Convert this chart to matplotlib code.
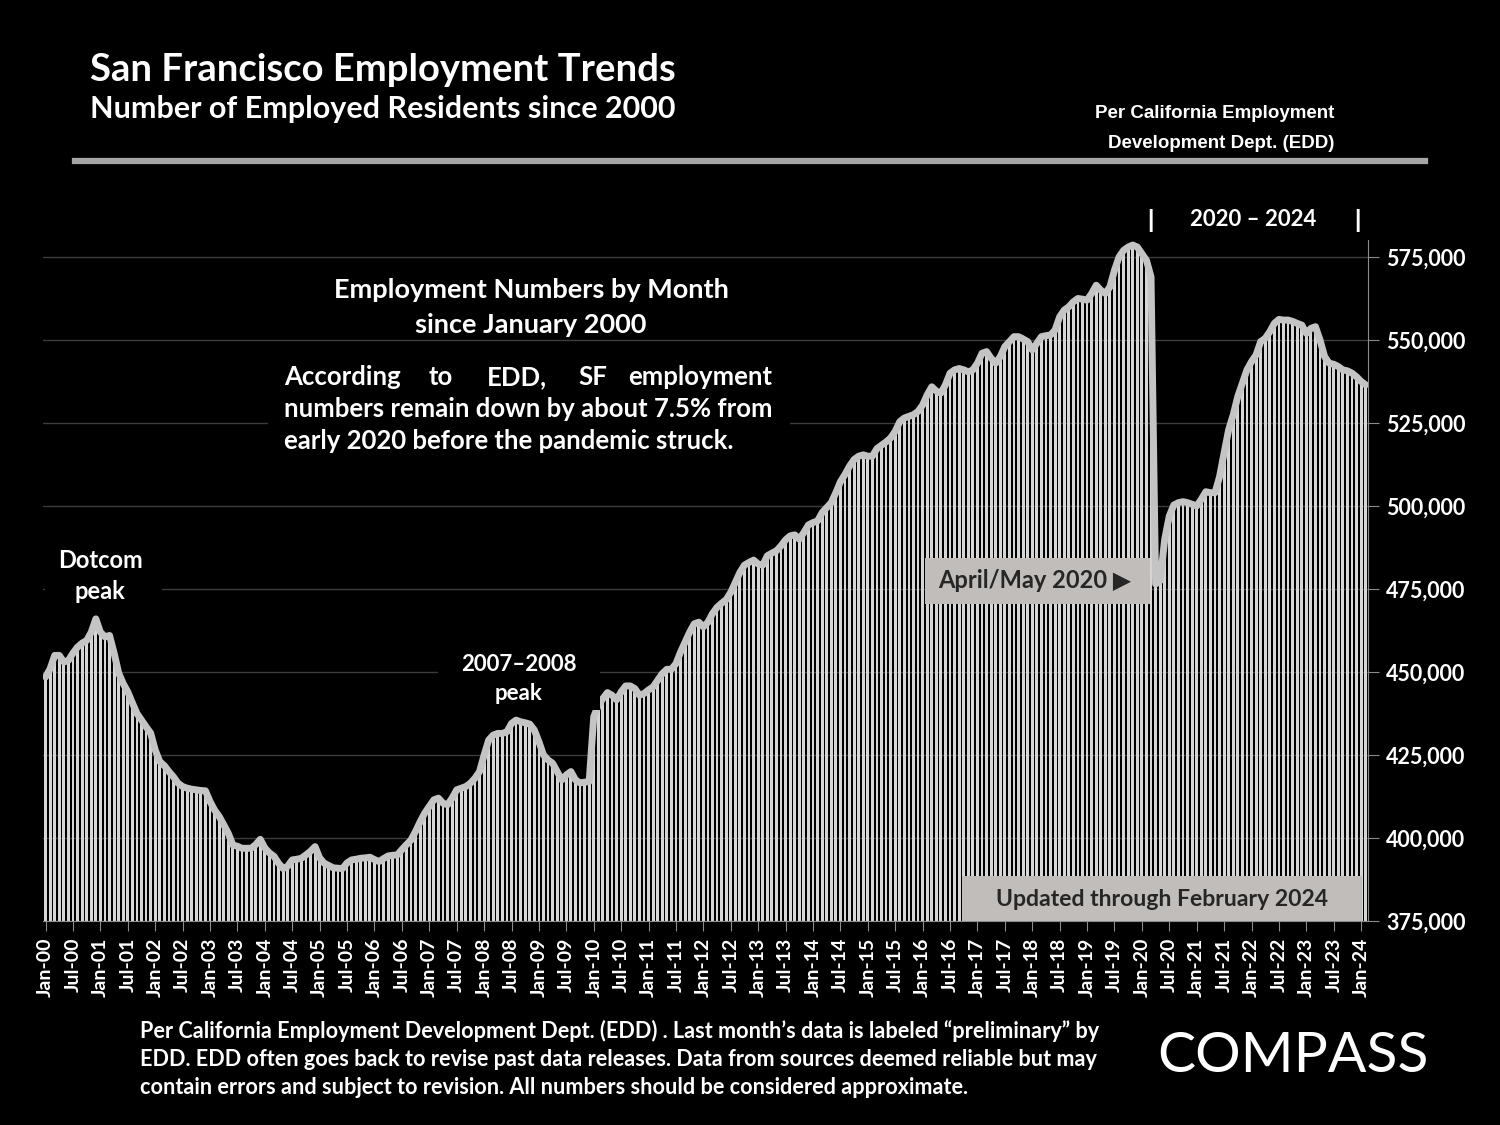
import matplotlib.pyplot as plt
from matplotlib.patches import Rectangle
from matplotlib.lines import Line2D
import numpy as np

plt.rcParams['font.family'] = ['Lato', 'DejaVu Sans']

# employed residents (thousands), Jan-2000 .. Feb-2024
emp_2000 = [448.5, 451.0, 455.0, 455.0, 453.0, 453.5, 455.7, 457.5, 458.7, 459.5, 462.0, 466.0]
emp_2001 = [462.0, 460.6, 461.0, 455.7, 449.7, 446.5, 444.0, 440.7, 437.5, 435.5, 433.5, 431.6]
emp_2002 = [426.5, 423.0, 421.8, 420.0, 418.4, 416.5, 415.5, 415.0, 414.7, 414.5, 414.3, 414.2]
emp_2003 = [411.0, 408.4, 406.5, 404.0, 401.4, 397.9, 397.5, 396.9, 396.9, 396.9, 398.0, 399.6]
emp_2004 = [397.0, 395.5, 394.5, 392.4, 390.8, 391.5, 393.4, 393.6, 393.9, 394.9, 396.0, 397.4]
emp_2005 = [394.0, 392.4, 391.7, 391.0, 390.9, 390.8, 392.5, 393.4, 393.6, 393.9, 394.0, 394.2]
emp_2006 = [393.5, 392.9, 393.8, 394.6, 394.8, 394.9, 396.5, 398.0, 399.4, 402.0, 404.9, 407.5]
emp_2007 = [409.5, 411.5, 412.0, 410.5, 410.0, 412.0, 414.5, 415.0, 415.5, 416.5, 418.0, 420.0]
emp_2008 = [425.0, 429.5, 431.0, 431.5, 431.5, 432.0, 434.5, 435.5, 435.0, 434.7, 434.3, 432.5]
emp_2009 = [429.0, 425.0, 423.5, 422.5, 420.0, 417.5, 419.0, 420.0, 417.5, 416.6, 416.8, 417.0]
emp_2010 = [436.5, 440.0, 442.0, 443.8, 443.0, 441.6, 444.0, 445.8, 445.8, 445.0, 443.0, 443.5]
emp_2011 = [444.6, 445.5, 447.5, 449.5, 450.8, 450.8, 452.5, 456.0, 459.0, 462.0, 464.5, 465.0]
emp_2012 = [463.6, 465.0, 467.6, 469.5, 470.7, 471.8, 474.0, 477.0, 480.0, 482.2, 483.0, 483.7]
emp_2013 = [482.5, 482.2, 485.0, 485.8, 486.5, 488.0, 489.8, 491.0, 491.3, 490.0, 492.0, 494.3]
emp_2014 = [495.0, 495.5, 498.0, 499.5, 501.0, 504.0, 507.3, 509.5, 512.0, 514.0, 515.0, 515.4]
emp_2015 = [515.0, 515.0, 517.3, 518.3, 519.3, 520.5, 522.5, 525.4, 526.5, 527.0, 527.5, 528.5]
emp_2016 = [530.4, 533.5, 535.9, 534.6, 534.0, 536.5, 540.0, 541.0, 541.4, 541.0, 540.4, 541.0]
emp_2017 = [543.0, 546.0, 546.5, 544.5, 543.0, 545.0, 548.0, 549.5, 551.0, 551.0, 550.3, 549.5]
emp_2018 = [547.0, 549.0, 551.0, 551.3, 551.5, 553.0, 557.0, 559.0, 560.0, 561.5, 562.5, 562.3]
emp_2019 = [562.0, 564.0, 566.5, 565.0, 564.0, 566.0, 571.0, 575.0, 577.0, 578.0, 578.6, 578.0]
emp_2020 = [576.0, 574.0, 569.0, 476.5, 477.5, 490.0, 497.0, 500.3, 501.0, 501.3, 501.0, 500.5]
emp_2021 = [500.0, 502.0, 504.3, 504.0, 504.0, 508.8, 516.0, 523.0, 527.5, 533.0, 537.0, 541.0]
emp_2022 = [543.5, 545.5, 549.5, 550.5, 552.5, 555.0, 556.2, 556.0, 556.0, 555.6, 555.0, 554.5]
emp_2023 = [552.0, 553.5, 554.0, 550.0, 545.0, 543.0, 542.7, 542.0, 541.0, 540.7, 540.0, 538.9]
emp_2024 = [537.5, 536.5]

employed = np.array(emp_2000 + emp_2001 + emp_2002 + emp_2003 + emp_2004 + emp_2005 +
                    emp_2006 + emp_2007 + emp_2008 + emp_2009 + emp_2010 + emp_2011 +
                    emp_2012 + emp_2013 + emp_2014 + emp_2015 + emp_2016 + emp_2017 +
                    emp_2018 + emp_2019 + emp_2020 + emp_2021 + emp_2022 + emp_2023 +
                    emp_2024) * 1000

tick_labels = [f"{m}-{y:02d}" for y in range(0, 25) for m in ("Jan", "Jul")][:-1]
y_ticks = [375000, 400000, 425000, 450000, 475000, 500000, 525000, 550000, 575000]

W, H = 1500, 1125


def fx(px):
    return px / W


def fy(py):
    return 1 - py / H


fig = plt.figure(figsize=(15, 11.25), dpi=100, facecolor='black')
ax = fig.add_axes([fx(43.3), fy(921), (1368 - 43.3) / W, (921 - 240.4) / H])
ax.set_facecolor('black')

idx = np.arange(len(employed))
ax.bar(idx, employed, width=0.62, color='#d6d6d6', zorder=2)
ax.plot(idx, employed, color='#c4c4c4', lw=5, solid_joinstyle='round',
        solid_capstyle='round', zorder=3)

ax.set_xlim(-0.5, len(employed) - 0.5)
ax.set_ylim(375000, 580000)
ax.set_yticks(y_ticks)
ax.set_yticklabels([f"{v:,}" for v in y_ticks])
ax.yaxis.tick_right()
ax.set_xticks(idx[::6])
ax.set_xticklabels(tick_labels, rotation=90)
ax.grid(axis='y', color='#3c3c3c', lw=1, zorder=0)
ax.set_axisbelow(True)

for s in ('left', 'top'):
    ax.spines[s].set_visible(False)
for s in ('right', 'bottom'):
    ax.spines[s].set_color('#8c8c8c')
ax.tick_params(axis='x', colors='#8c8c8c', length=7, labelcolor='white', labelsize=14, pad=5)
ax.tick_params(axis='y', colors='#8c8c8c', length=8, labelcolor='white', labelsize=15.5, pad=5)
for lab in ax.get_xticklabels() + ax.get_yticklabels():
    lab.set_fontweight('bold')

# header
fig.text(fx(90), fy(70), "San Francisco Employment Trends", color='white', fontsize=27.5,
         fontweight='bold', va='center', ha='left')
fig.text(fx(90), fy(109), "Number of Employed Residents since 2000", color='white', fontsize=22,
         fontweight='bold', va='center', ha='left')
fig.add_artist(Line2D([fx(75), fx(1425)], [fy(161), fy(161)], color='#a6a6a6', lw=4.5))
fig.text(fx(1334), fy(114), "Per California Employment", color='white', fontsize=13.5,
         fontweight='bold', family='Liberation Sans', ha='right', va='center')
fig.text(fx(1334), fy(143), "Development Dept. (EDD)", color='white', fontsize=13.5,
         fontweight='bold', family='Liberation Sans', ha='right', va='center')

# period marker
fig.text(fx(1150), fy(220), "|", color='white', fontsize=17, fontweight='heavy', ha='center', va='center')
fig.text(fx(1253), fy(220), "2020 – 2024", color='white', fontsize=16, fontweight='bold',
         ha='center', va='center')
fig.text(fx(1357), fy(220), "|", color='white', fontsize=17, fontweight='heavy', ha='center', va='center')

# in-chart notes (black boxes hide the gridlines behind them)
for x0, y0, x1, y1 in [(268, 358, 790, 462), (45, 545, 162, 607), (438, 648, 600, 710)]:
    fig.add_artist(Rectangle((fx(x0), fy(y1)), fx(x1 - x0), (y1 - y0) / H,
                             facecolor='black', edgecolor='none', zorder=1))

fig.text(fx(531), fy(307), "Employment Numbers by Month\nsince January 2000", color='white',
         fontsize=19.5, fontweight='bold', ha='center', va='center', linespacing=1.55, zorder=4)

para_words = [("According", 284, 'left'), ("to", 441, 'center'), ("EDD,", 517, 'center'),
              ("SF", 593, 'center'), ("employment", 772, 'right')]
for word, px, ha in para_words:
    fig.text(fx(px), fy(377), word, color='white', fontsize=18.5, fontweight='bold',
             ha=ha, va='center', zorder=4)
fig.text(fx(284), fy(409), "numbers remain down by about 7.5% from", color='white',
         fontsize=18.5, fontweight='bold', ha='left', va='center', zorder=4)
fig.text(fx(284), fy(441), "early 2020 before the pandemic struck.", color='white',
         fontsize=18.5, fontweight='bold', ha='left', va='center', zorder=4)

fig.text(fx(100), fy(576), "Dotcom\npeak", color='white', fontsize=17, fontweight='bold',
         ha='center', va='center', linespacing=1.4, zorder=4)
fig.text(fx(519), fy(679), "2007–2008\npeak", color='white', fontsize=16, fontweight='bold',
         ha='center', va='center', linespacing=1.45, zorder=4)

# gray callout boxes
fig.add_artist(Rectangle((fx(925), fy(604)), fx(225), 46 / H, facecolor='#c0bdbb',
                         edgecolor='none', zorder=5))
fig.text(fx(1035), fy(581), "April/May 2020 ▶", color='#262626', fontsize=17, fontweight='bold',
         ha='center', va='center', zorder=6)
fig.add_artist(Rectangle((fx(962), fy(921)), fx(400), 45 / H, facecolor='#c0bdbb',
                         edgecolor='none', zorder=5))
fig.text(fx(1162), fy(899), "Updated through February 2024", color='#262626', fontsize=16.6,
         fontweight='bold', ha='center', va='center', zorder=6)

# footer
fig.text(fx(140), fy(1059),
         "Per California Employment Development Dept. (EDD) . Last month’s data is labeled “preliminary” by\n"
         "EDD. EDD often goes back to revise past data releases. Data from sources deemed reliable but may\n"
         "contain errors and subject to revision. All numbers should be considered approximate.",
         color='white', fontsize=15.6, fontweight='bold', ha='left', va='center', linespacing=1.42)
fig.text(fx(1293), fy(1057), "COMPASS", color='white', fontsize=41, fontweight='normal',
         ha='center', va='center')

fig.savefig('out.png', dpi=100, facecolor='black')
